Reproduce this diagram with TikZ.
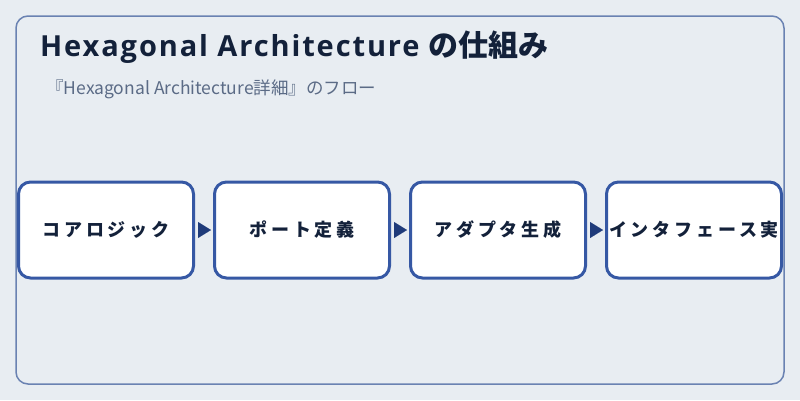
\documentclass[tikz,border=0pt]{standalone}
\usepackage{fontspec}
\setmainfont{Noto Sans CJK JP}
\newfontfamily\latinsans{Open Sans}
\usetikzlibrary{arrows.meta, positioning}
\definecolor{panelbg}{HTML}{E8EDF2}
\definecolor{panelline}{HTML}{6A82B2}
\definecolor{boxline}{HTML}{3658A4}
\definecolor{tipblue}{HTML}{1F3B7A}
\definecolor{titleink}{HTML}{13213A}
\definecolor{subink}{HTML}{5B6B86}

\tikzset{
  stepbox/.style={draw=boxline, line width=3pt, fill=white, rounded corners=12pt,
    minimum width=175pt, minimum height=96pt, inner sep=0pt, text=titleink,
    font=\bfseries\fontsize{18}{22}\selectfont\addfontfeature{LetterSpace=21}},
  flow/.style={-{Triangle[length=13pt,width=16pt]}, draw=tipblue, fill=tipblue, line width=0.1pt,
    shorten <=3pt, shorten >=2pt}
}

\begin{document}
\begin{tikzpicture}[x=1pt, y=-1pt, node distance=18pt]

  \fill[panelbg] (0, 0) rectangle (800, 400);
  \useasboundingbox (0, 0) rectangle (800, 400);
  \draw[panelline, line width=1.5pt, rounded corners=12pt] (16, 16) rectangle (784, 384);

  \node[anchor=west, inner sep=0pt, text=titleink, font=\bfseries\fontsize{30}{34}\selectfont]
    (title) at (40, 47) {{\latinsans\fontsize{29}{34}\selectfont\addfontfeature{LetterSpace=6.5}Hexagonal Architecture}\hspace{9pt}の仕組み};
  \node[anchor=west, inner sep=0pt, text=subink, font=\fontsize{17.5}{21}\selectfont]
    (subtitle) at (46, 89) {『Hexagonal Architecture詳細』のフロー};

  % steps
  \node[stepbox] (core) at (106, 230) {コアロジック};
  \node[stepbox, right=of core] (port) {ポート定義};
  \node[stepbox, right=of port] (adapter) {アダプタ生成};
  \node[stepbox, right=of adapter] (impl) {インタフェース実};

  \draw[flow] (core) -- (port);
  \draw[flow] (port) -- (adapter);
  \draw[flow] (adapter) -- (impl);

\end{tikzpicture}
\end{document}
